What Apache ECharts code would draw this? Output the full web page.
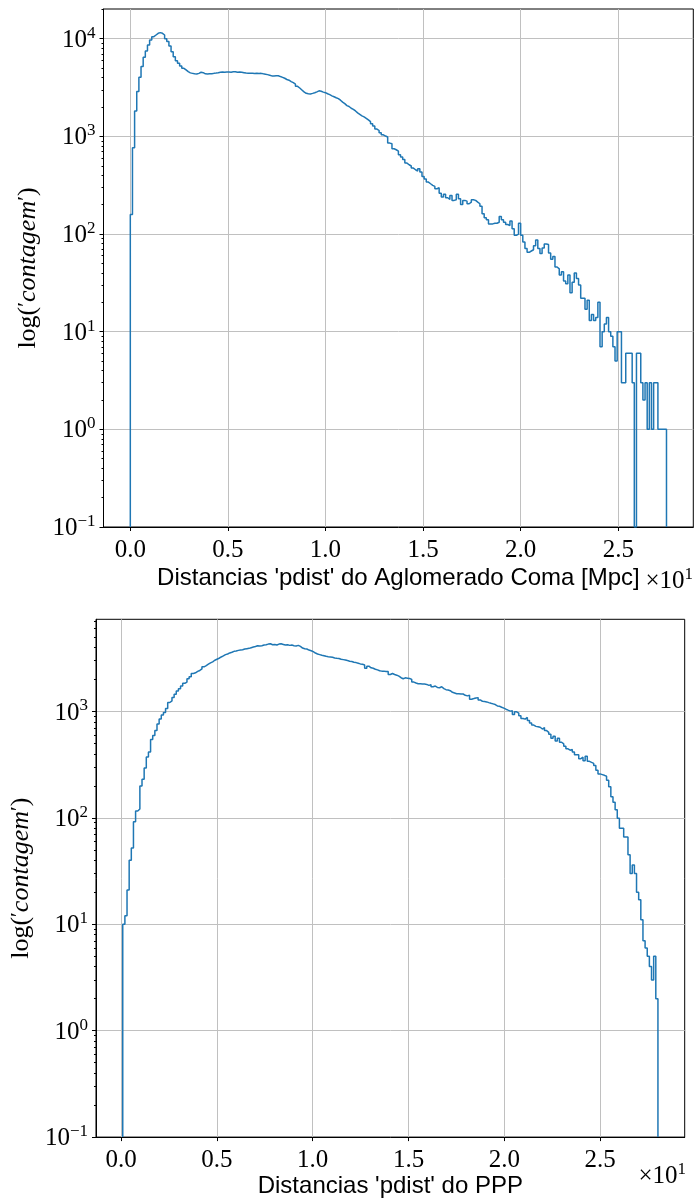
<!DOCTYPE html>
<html>
<head>
<meta charset="utf-8">
<script src="https://cdn.jsdelivr.net/npm/echarts@6/dist/echarts.min.js"></script>
<style>
html,body{margin:0;padding:0;background:#fff;}
#chart{width:694px;height:1199px;}
</style>
</head>
<body>
<div id="chart"></div>
<script>
// ---------- DATA ----------
// Histogram counts, 250 bins each (x in units of 10 Mpc, shown with the x10^1 offset)
const comaCounts = [
158,766,1820,2871,4018,5176,6442,7482,8610,9705,
10495,10914,11350,11535,11350,10914,10000,9333,8414,7362,
6546,5957,5598,5248,4977,4786,4592,4467,4416,4365,
4355,4416,4529,4487,4365,4355,4385,4365,4416,4446,
4487,4539,4560,4529,4560,4571,4539,4592,4592,4529,
4550,4529,4487,4446,4416,4436,4416,4395,4426,4406,
4416,4365,4325,4285,4227,4159,4150,4178,4178,4093,
4018,3936,3819,3758,3631,3548,3428,3251,3126,2985,
2851,2761,2729,2716,2754,2799,2851,2924,2897,2838,
2799,2729,2673,2600,2541,2483,2432,2344,2239,2163,
2065,2023,1941,1892,1820,1738,1679,1622,1585,1531,
1472,1413,1343,1274,1189,1148,1091,1038,1007,984,
853,839,746,729,706,649,614,581,532,512,
497,473,455,441,466,431,389,366,340,327,
315,307,291,298,262,239,255,235,226,248,
221,224,255,230,200,221,217,204,212,224,
221,212,204,192,161,147,140,127,127,129,
129,132,151,140,132,125,122,136,113,97,
100,129,97,83,71,65,67,69,76,87,
71,63,72,79,78,64,55,59,46,44,
38,41,33,31,38,25,32,40,35,30,
22,22,17,21,13,15,13,14,20,7,
10,12,14,10,9,7,5,10,10,3,
3,6,6,6,3,0,6,6,3,2,
3,1,3,1,3,3,1,1,1,1
];
const comaRange = [0.0, 2.747];   // first and last bin edge

const pppCounts = [
10,12,21,40,52,92,116,121,199,231,
294,373,415,544,593,661,762,848,924,978,
1066,1213,1257,1350,1450,1557,1638,1735,1837,1889,
2029,2120,2275,2307,2377,2427,2512,2624,2698,2780,
2858,2924,3027,3097,3162,3251,3327,3420,3467,3548,
3597,3673,3698,3750,3776,3802,3864,3890,3917,3972,
4027,4083,4150,4121,4150,4207,4236,4295,4325,4236,
4266,4207,4295,4325,4266,4207,4236,4178,4207,4150,
4121,4178,4083,3945,3890,3864,3776,3724,3648,3540,
3467,3420,3373,3342,3296,3273,3251,3228,3184,3162,
3141,3090,3069,3048,3006,2965,2944,2897,2877,2838,
2799,2780,2735,2547,2661,2570,2547,2495,2460,2410,
2393,2393,2377,2377,2223,2275,2223,2193,2148,2075,
2028,2070,2056,2042,2000,1888,1849,1820,1820,1807,
1807,1795,1758,1782,1706,1734,1683,1671,1706,1637,
1603,1592,1567,1514,1493,1469,1469,1459,1459,1419,
1400,1419,1303,1321,1340,1349,1282,1247,1239,1230,
1211,1194,1178,1161,1127,1119,1096,1074,1050,1028,
1007,1014,938,993,964,910,859,847,879,824,
778,745,724,719,710,684,705,661,637,610,
560,585,528,560,514,495,472,446,432,439,
415,392,392,360,372,344,380,340,332,325,
311,280,259,255,251,246,226,196,158,140,
119,99,80,80,66,66,45,30,36,30,
20,17,11,7,6,5,4,3,5,2
];
const pppRange = [0.0083, 2.802];

const xTickValues = [0, 0.5, 1.0, 1.5, 2.0, 2.5];
const yTicksComa = [0.1, 1, 10, 100, 1000, 10000];
const yTicksPPP = [0.1, 1, 10, 100, 1000];
const yMin = 0.1;
const yMaxComa = Math.pow(10, 4.304);
const yMaxPPP = Math.pow(10, 3.866);

const xLabelComa = "Distancias 'pdist' do Aglomerado Coma [Mpc]";
const xLabelPPP = "Distancias 'pdist' do PPP";
const yLabel = "{r|log(}{p|′}{i|contagem}{p|′}{r|)}";
const offsetLabel = "{b|×10}{s|1}";

// ---------- BUILD ----------
const SERIF = "'Liberation Serif', 'DejaVu Serif', serif";
const SANS = "'Liberation Sans', 'DejaVu Sans', sans-serif";
const BLUE = '#1f77b4';
const GRIDC = '#c0c0c0';

function stepData(counts, range) {
  const lo = range[0], hi = range[1], n = counts.length, w = (hi - lo) / n;
  const d = [[lo, yMin]];
  counts.forEach((c, i) => d.push([lo + i * w, c > 0 ? c : yMin]));
  const last = counts[n - 1];
  d.push([hi, last > 0 ? last : yMin]);
  d.push([hi, yMin]);
  return d;
}

function minorTicks(maxV) {
  const out = [];
  for (let k = -1; k <= 4; k++) {
    for (let m = 2; m <= 9; m++) {
      const v = m * Math.pow(10, k);
      if (v > yMin && v < maxV) out.push(v);
    }
  }
  return out;
}

function xmargins(range) {
  const span = range[1] - range[0];
  return [range[0] - 0.05 * span, range[1] + 0.05 * span];
}

const yRich = {
  b: {fontFamily: SERIF, fontSize: 25, color: '#000', lineHeight: 28, verticalAlign: 'bottom'},
  s: {fontFamily: SERIF, fontSize: 17, color: '#000', lineHeight: 17, verticalAlign: 'top'}
};
function yFmt(v) {
  const n = Math.round(Math.log10(v));
  const e = n < 0 ? '−' + (-n) : String(n);
  return '{b|10}{s|' + e + '}';
}

function xAxisCfg(gi, range, name, gap) {
  const mm = xmargins(range);
  return {
    gridIndex: gi, type: 'value', min: mm[0], max: mm[1],
    axisLine: {show: true, onZero: false, lineStyle: {color: '#000', width: 1}},
    axisTick: {show: true, customValues: xTickValues, length: 4, lineStyle: {color: '#000', width: 1}},
    axisLabel: {customValues: xTickValues, formatter: v => v.toFixed(1), fontFamily: SERIF, fontSize: 25, color: '#000', margin: 11},
    splitLine: {show: true, lineStyle: {color: GRIDC, width: 1}},
    name: name, nameLocation: 'middle', nameGap: gap,
    nameTextStyle: {fontFamily: SANS, fontSize: 24, color: '#000'}
  };
}
function yAxisCfg(gi, maxV, ticks, gap) {
  return {
    gridIndex: gi, type: 'log', logBase: 10, min: yMin, max: maxV,
    axisLine: {show: true, onZero: false, lineStyle: {color: '#000', width: 1}},
    axisTick: {show: true, customValues: ticks, length: 4, lineStyle: {color: '#000', width: 1}},
    axisLabel: {customValues: ticks, formatter: yFmt, rich: yRich, margin: 8},
    splitLine: {show: true, lineStyle: {color: GRIDC, width: 1}},
    name: yLabel, nameLocation: 'middle', nameGap: gap, nameRotate: 90,
    nameTextStyle: {
      rich: {
        r: {fontFamily: SERIF, fontSize: 26, color: '#000'},
        p: {fontFamily: SERIF, fontSize: 22, color: '#000', verticalAlign: 'top', lineHeight: 22},
        i: {fontFamily: SERIF, fontSize: 26, fontStyle: 'italic', color: '#000'}
      }
    }
  };
}
function yMinorCfg(gi, maxV) {
  return {
    gridIndex: gi, type: 'log', logBase: 10, min: yMin, max: maxV, position: 'left', offset: 0,
    axisLine: {show: false, onZero: false}, splitLine: {show: false}, axisLabel: {show: false},
    axisTick: {show: true, customValues: minorTicks(maxV), length: 2, lineStyle: {color: '#000', width: 1}}
  };
}

const offRich = {
  b: {fontFamily: SERIF, fontSize: 25, fill: '#000', lineHeight: 28, verticalAlign: 'bottom'},
  s: {fontFamily: SERIF, fontSize: 17, fill: '#000', lineHeight: 17, verticalAlign: 'top'}
};

const option = {
  animation: false,
  backgroundColor: '#fff',
  grid: [
    {left: 103.5, top: 9, width: 589.8, height: 518, show: true, borderColor: '#000', borderWidth: 1, backgroundColor: 'transparent', containLabel: false},
    {left: 90.7, top: 619.3, width: 594, height: 522.4, show: true, borderColor: '#000', borderWidth: 1, backgroundColor: 'transparent', containLabel: false}
  ],
  xAxis: [
    xAxisCfg(0, comaRange, xLabelComa, 39),
    xAxisCfg(1, pppRange, xLabelPPP, 34)
  ],
  yAxis: [
    yAxisCfg(0, yMaxComa, yTicksComa, 57),
    yMinorCfg(0, yMaxComa),
    yAxisCfg(1, yMaxPPP, yTicksPPP, 56),
    yMinorCfg(1, yMaxPPP)
  ],
  graphic: [
    {type: 'text', x: 693, y: 580, style: {text: offsetLabel, rich: offRich, align: 'right', verticalAlign: 'middle'}},
    {type: 'text', x: 686, y: 1175, style: {text: offsetLabel, rich: offRich, align: 'right', verticalAlign: 'middle'}}
  ],
  series: [
    {type: 'line', xAxisIndex: 0, yAxisIndex: 0, step: 'end', showSymbol: false, symbol: 'none',
     lineStyle: {color: BLUE, width: 1.5}, data: stepData(comaCounts, comaRange), clip: true},
    {type: 'line', xAxisIndex: 1, yAxisIndex: 2, step: 'end', showSymbol: false, symbol: 'none',
     lineStyle: {color: BLUE, width: 1.5}, data: stepData(pppCounts, pppRange), clip: true}
  ]
};

const chart = echarts.init(document.getElementById('chart'), null, {renderer: 'canvas'});
chart.setOption(option);
</script>
</body>
</html>
